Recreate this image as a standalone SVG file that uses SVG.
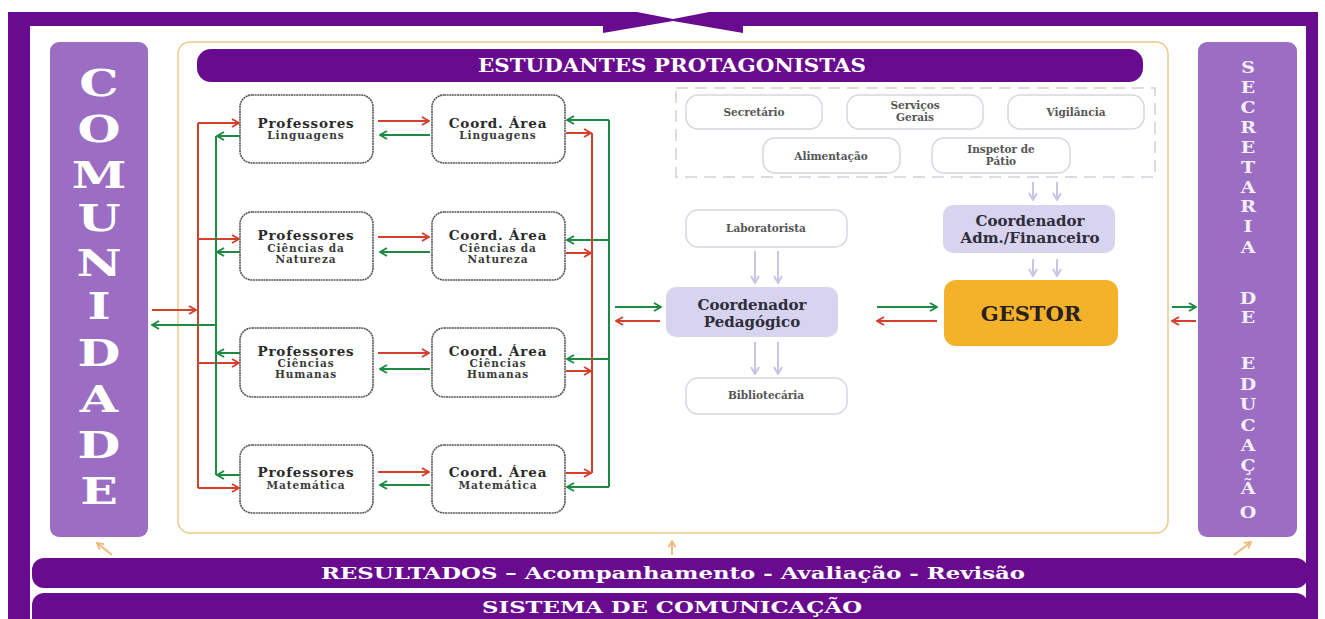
<svg xmlns="http://www.w3.org/2000/svg" width="1325" height="619" viewBox="0 0 1325 619">
<style>
.dk{fill:#690b8e}
.side{fill:#9b6dc3}
.big{font-family:"DejaVu Serif","Liberation Serif",serif;font-weight:bold;font-size:38px;fill:#ffffff;text-anchor:middle}
.sec{font-family:"DejaVu Serif","Liberation Serif",serif;font-weight:bold;font-size:16.5px;fill:#f6eefb;text-anchor:middle}
.bar{font-family:"DejaVu Serif","Liberation Serif",serif;font-weight:bold;fill:#ffffff;text-anchor:middle}
.nb{fill:#ffffff;stroke:#555555;stroke-width:1.6;stroke-dasharray:2 0.6}
.t1{font-family:"DejaVu Serif","Liberation Serif",serif;font-weight:bold;font-size:13.5px;letter-spacing:0.8px;fill:#2a2a2a;text-anchor:middle}
.t2{font-family:"DejaVu Serif","Liberation Serif",serif;font-weight:bold;font-size:10.5px;letter-spacing:0.9px;fill:#3a3a3a;text-anchor:middle}
.lb{fill:#ffffff;stroke:#d6d6e0;stroke-width:1.5}
.t3{font-family:"DejaVu Serif","Liberation Serif",serif;font-weight:bold;font-size:10.5px;fill:#555555;text-anchor:middle}
.lav{fill:#d8d3ef}
.t4{font-family:"DejaVu Serif","Liberation Serif",serif;font-weight:bold;font-size:15px;fill:#2e2e3a;text-anchor:middle}
.r{stroke:#d2402e;stroke-width:2;fill:none}
.g{stroke:#1d8a43;stroke-width:2;fill:none}
.ra{stroke:#d2402e;stroke-width:2;fill:none;marker-end:url(#mr)}
.ga{stroke:#1d8a43;stroke-width:2;fill:none;marker-end:url(#mg)}
.la{stroke:#c9c5e6;stroke-width:2;fill:none;marker-end:url(#ml)}
.ta{stroke:#f2b878;stroke-width:2;fill:none;marker-end:url(#mt)}
</style>
<defs>
<marker id="mr" viewBox="0 0 10 10" refX="9" refY="5" markerWidth="10" markerHeight="10" orient="auto" markerUnits="userSpaceOnUse"><path d="M2,1 L9,5 L2,9" fill="none" stroke="#d2402e" stroke-width="2"/></marker>
<marker id="mg" viewBox="0 0 10 10" refX="9" refY="5" markerWidth="10" markerHeight="10" orient="auto" markerUnits="userSpaceOnUse"><path d="M2,1 L9,5 L2,9" fill="none" stroke="#1d8a43" stroke-width="2"/></marker>
<marker id="ml" viewBox="0 0 10 10" refX="9" refY="5" markerWidth="10" markerHeight="10" orient="auto" markerUnits="userSpaceOnUse"><path d="M2,1 L9,5 L2,9" fill="none" stroke="#c9c5e6" stroke-width="2"/></marker>
<marker id="mt" viewBox="0 0 10 10" refX="9" refY="5" markerWidth="9" markerHeight="9" orient="auto" markerUnits="userSpaceOnUse"><path d="M2,1 L9,5 L2,9" fill="none" stroke="#f2b878" stroke-width="2"/></marker>
</defs>
<rect x="0" y="0" width="1325" height="619" fill="#ffffff"/>

<g id="frame">
<path class="dk" d="M8,12 H637 L673,19 L709,12 H1318 V26 H743 V33 L673,21 L603,33 V26 H8 Z"/>
<rect class="dk" x="8" y="12" width="22" height="607"/>
<rect class="dk" x="1306" y="12" width="12" height="607"/>
<rect x="178" y="42" width="990" height="491" rx="12" fill="none" stroke="#ecc98c" stroke-width="1.5"/>
</g>

<g id="comunidade">
<rect class="side" x="50" y="42" width="98" height="495" rx="9"/>
<g transform="translate(99,0) scale(1.3,1)">
<text class="big" x="0" y="96">C</text>
<text class="big" x="0" y="142">O</text>
<text class="big" x="0" y="188">M</text>
<text class="big" x="0" y="231">U</text>
<text class="big" x="0" y="276">N</text>
<text class="big" x="0" y="319">I</text>
<text class="big" x="0" y="366">D</text>
<text class="big" x="0" y="412">A</text>
<text class="big" x="0" y="458">D</text>
<text class="big" x="0" y="504">E</text>
</g>
</g>

<g id="secretaria">
<rect class="side" x="1198" y="42" width="99" height="495" rx="9"/>
<g transform="translate(1248,0) scale(1.15,1)">
<text class="sec" x="0" y="73">S</text>
<text class="sec" x="0" y="93">E</text>
<text class="sec" x="0" y="113">C</text>
<text class="sec" x="0" y="133">R</text>
<text class="sec" x="0" y="153">E</text>
<text class="sec" x="0" y="173">T</text>
<text class="sec" x="0" y="193">A</text>
<text class="sec" x="0" y="212">R</text>
<text class="sec" x="0" y="232">I</text>
<text class="sec" x="0" y="253">A</text>
<text class="sec" x="0" y="304">D</text>
<text class="sec" x="0" y="323">E</text>
<text class="sec" x="0" y="369">E</text>
<text class="sec" x="0" y="390">D</text>
<text class="sec" x="0" y="410">U</text>
<text class="sec" x="0" y="431">C</text>
<text class="sec" x="0" y="451">A</text>
<text class="sec" x="0" y="471">Ç</text>
<text class="sec" x="0" y="494">Ã</text>
<text class="sec" x="0" y="518">O</text>
</g>
</g>

<g id="estudantes">
<rect class="dk" x="197" y="49" width="946" height="33" rx="14"/>
<text class="bar" x="672" y="72" font-size="19" textLength="388" lengthAdjust="spacingAndGlyphs">ESTUDANTES PROTAGONISTAS</text>
</g>

<g id="resultados">
<rect class="dk" x="32" y="558" width="1276" height="30" rx="12"/>
<text class="bar" x="673" y="579" font-size="17" textLength="704" lengthAdjust="spacingAndGlyphs">RESULTADOS – Acompanhamento - Avaliação - Revisão</text>
</g>
<g id="sistema">
<rect class="dk" x="32" y="593" width="1276" height="40" rx="12"/>
<text class="bar" x="672" y="613" font-size="17" textLength="380" lengthAdjust="spacingAndGlyphs">SISTEMA DE COMUNICAÇÃO</text>
</g>

<g id="prof-linguagens">
<rect class="nb" x="240" y="95" width="133" height="68" rx="12"/>
<text class="t1" x="306" y="128">Professores</text>
<text class="t2" x="306" y="139">Linguagens</text>
</g>
<g id="prof-natureza">
<rect class="nb" x="240" y="212" width="133" height="68" rx="12"/>
<text class="t1" x="306" y="240">Professores</text>
<text class="t2" x="306" y="251.5">Ciências da</text>
<text class="t2" x="306" y="262.5">Natureza</text>
</g>
<g id="prof-humanas">
<rect class="nb" x="240" y="328" width="133" height="69" rx="12"/>
<text class="t1" x="306" y="356">Professores</text>
<text class="t2" x="306" y="367">Ciências</text>
<text class="t2" x="306" y="378">Humanas</text>
</g>
<g id="prof-matematica">
<rect class="nb" x="240" y="445" width="133" height="68" rx="12"/>
<text class="t1" x="306" y="477">Professores</text>
<text class="t2" x="306" y="489">Matemática</text>
</g>

<g id="coord-linguagens">
<rect class="nb" x="432" y="95" width="133" height="68" rx="12"/>
<text class="t1" x="498" y="128">Coord. Área</text>
<text class="t2" x="498" y="139">Linguagens</text>
</g>
<g id="coord-natureza">
<rect class="nb" x="432" y="212" width="133" height="68" rx="12"/>
<text class="t1" x="498" y="240">Coord. Área</text>
<text class="t2" x="498" y="251.5">Ciências da</text>
<text class="t2" x="498" y="262.5">Natureza</text>
</g>
<g id="coord-humanas">
<rect class="nb" x="432" y="328" width="133" height="69" rx="12"/>
<text class="t1" x="498" y="356">Coord. Área</text>
<text class="t2" x="498" y="367">Ciências</text>
<text class="t2" x="498" y="378">Humanas</text>
</g>
<g id="coord-matematica">
<rect class="nb" x="432" y="445" width="133" height="68" rx="12"/>
<text class="t1" x="498" y="477">Coord. Área</text>
<text class="t2" x="498" y="489">Matemática</text>
</g>

<g id="apoio">
<rect x="676" y="88" width="479" height="89" fill="none" stroke="#cfcfd8" stroke-width="1.5" stroke-dasharray="12 7"/>
</g>
<g id="secretario">
<rect class="lb" x="686" y="95" width="136" height="34" rx="12"/>
<text class="t3" x="754" y="116">Secretário</text>
</g>
<g id="servicos-gerais">
<rect class="lb" x="847" y="95" width="136" height="34" rx="12"/>
<text class="t3" x="915" y="109">Serviços</text>
<text class="t3" x="915" y="121">Gerais</text>
</g>
<g id="vigilancia">
<rect class="lb" x="1008" y="95" width="136" height="34" rx="12"/>
<text class="t3" x="1076" y="116">Vigilância</text>
</g>
<g id="alimentacao">
<rect class="lb" x="763" y="138" width="137" height="35" rx="12"/>
<text class="t3" x="831" y="160">Alimentação</text>
</g>
<g id="inspetor">
<rect class="lb" x="932" y="138" width="138" height="35" rx="12"/>
<text class="t3" x="1001" y="153">Inspetor de</text>
<text class="t3" x="1001" y="165">Pátio</text>
</g>

<g id="coord-adm">
<rect class="lav" x="943" y="205" width="172" height="48" rx="10"/>
<text class="t4" x="1030" y="226" font-size="14.5">Coordenador</text>
<text class="t4" x="1030" y="243" font-size="14.5">Adm./Financeiro</text>
</g>
<g id="laboratorista">
<rect class="lb" x="686" y="210" width="161" height="37" rx="12"/>
<text class="t3" x="766" y="232">Laboratorista</text>
</g>
<g id="coord-pedagogico">
<rect class="lav" x="666" y="287" width="172" height="50" rx="10"/>
<text class="t4" x="752" y="310">Coordenador</text>
<text class="t4" x="752" y="327">Pedagógico</text>
</g>
<g id="bibliotecaria">
<rect class="lb" x="686" y="378" width="161" height="36" rx="12"/>
<text class="t3" x="766" y="399">Bibliotecária</text>
</g>
<g id="gestor">
<rect x="944" y="280" width="174" height="66" rx="12" fill="#f4b22a"/>
<text class="bar" x="1031" y="321" font-size="21" style="fill:#2a2020">GESTOR</text>
</g>

<g id="connectors">
<path class="r" d="M198,123 V488"/>
<path class="ra" d="M198,123 H239"/>
<path class="ra" d="M198,239 H239"/>
<path class="ra" d="M198,363 H239"/>
<path class="ra" d="M198,488 H239"/>
<path class="ra" d="M152,310 H196"/>
<path class="g" d="M216,136 V475"/>
<path class="ga" d="M240,136 H217"/>
<path class="ga" d="M240,252 H217"/>
<path class="ga" d="M240,353 H217"/>
<path class="ga" d="M240,475 H217"/>
<path class="ga" d="M216,325 H152"/>
<path class="ra" d="M378,121 H429"/>
<path class="ga" d="M430,135 H380"/>
<path class="ra" d="M378,237 H429"/>
<path class="ga" d="M430,252 H380"/>
<path class="ra" d="M378,353 H429"/>
<path class="ga" d="M430,369 H380"/>
<path class="ra" d="M378,472 H429"/>
<path class="ga" d="M430,485 H380"/>
<path class="g" d="M609,120 V487"/>
<path class="ga" d="M609,120 H567"/>
<path class="ga" d="M609,240 H567"/>
<path class="ga" d="M609,359 H567"/>
<path class="ga" d="M609,487 H567"/>
<path class="r" d="M592,133 V473"/>
<path class="ra" d="M566,133 H591"/>
<path class="ra" d="M566,253 H591"/>
<path class="ra" d="M566,371 H591"/>
<path class="ra" d="M566,473 H591"/>
<path class="ga" d="M615,307 H661"/>
<path class="ra" d="M660,321 H616"/>
<path class="ga" d="M877,307 H937"/>
<path class="ra" d="M937,321 H877"/>
<path class="ga" d="M1172,307 H1196"/>
<path class="ra" d="M1196,321 H1172"/>
<path class="la" d="M1033,182 V200"/>
<path class="la" d="M1057,182 V200"/>
<path class="la" d="M1033,259 V276"/>
<path class="la" d="M1057,259 V276"/>
<path class="la" d="M755,251 V283"/>
<path class="la" d="M778,251 V283"/>
<path class="la" d="M755,342 V374"/>
<path class="la" d="M778,342 V374"/>
<path class="ta" d="M112,555 L97,543"/>
<path class="ta" d="M672,555 V541"/>
<path class="ta" d="M1234,555 L1251,542"/>
</g>
</svg>
